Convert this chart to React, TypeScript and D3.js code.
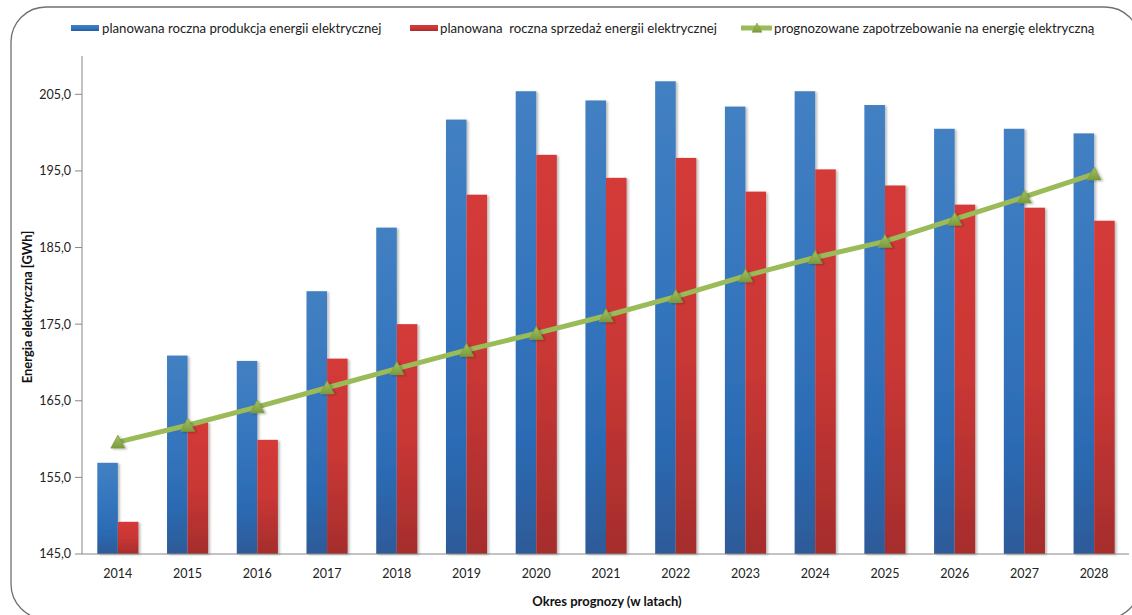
import React from "react";
import * as d3 from "d3";

// Forecast years on the category axis
const years = ["2014", "2015", "2016", "2017", "2018", "2019", "2020", "2021", "2022", "2023", "2024", "2025", "2026", "2027", "2028"];

// Planned annual electricity production [GWh]
const production = [156.9, 170.9, 170.2, 179.3, 187.6, 201.7, 205.4, 204.2, 206.7, 203.4, 205.4, 203.6, 200.5, 200.5, 199.9];

// Planned annual electricity sales [GWh]
const sales = [149.2, 162.2, 159.9, 170.5, 175.0, 191.9, 197.1, 194.1, 196.7, 192.3, 195.2, 193.1, 190.6, 190.2, 188.5];

// Forecast electricity demand [GWh]
const demand = [159.6, 161.8, 164.2, 166.7, 169.2, 171.6, 173.8, 176.1, 178.6, 181.3, 183.7, 185.8, 188.7, 191.6, 194.6];

// Value axis ticks
const yTicks = [145, 155, 165, 175, 185, 195, 205];

const seriesNames = [
  "planowana roczna produkcja energii elektrycznej",
  "planowana  roczna sprzedaż energii elektrycznej",
  "prognozowane zapotrzebowanie na energię elektryczną",
];

const FONT = "Lato, 'Open Sans', sans-serif";

export default function App() {
  const width = 1132;
  const height = 615;
  const left = 82;
  const right = 1129;
  const top = 56;
  const bottom = 554;

  const x = d3.scaleBand<string>().domain(years).range([83, right]).paddingInner(0.41).paddingOuter(0.205);
  const xs = d3.scaleBand<string>().domain(["prod", "sales"]).range([0, x.bandwidth()]);
  const y = d3.scaleLinear().domain([145, 210]).range([bottom, top]);

  const line = d3
    .line<number>()
    .x((_, i) => (x(years[i]) as number) + x.bandwidth() / 2)
    .y((d) => y(d));

  const tri = (cx: number, cy: number, s = 7) =>
    `M${cx},${cy - s} L${cx + s},${cy + s * 0.85} L${cx - s},${cy + s * 0.85} Z`;

  return (
    <svg width={width} height={height} style={{ display: "block", position: "absolute", left: 0, top: 0 }}>
      <defs>
        <linearGradient id="gBlue" x1="0" y1="0" x2="0" y2="1">
          <stop offset="0" stopColor="#4280c2" />
          <stop offset="0.45" stopColor="#3475bd" />
          <stop offset="0.75" stopColor="#2c6bb4" />
          <stop offset="1" stopColor="#2d5a98" />
        </linearGradient>
        <linearGradient id="gRed" x1="0" y1="0" x2="0" y2="1">
          <stop offset="0" stopColor="#d43a38" />
          <stop offset="0.5" stopColor="#c93735" />
          <stop offset="1" stopColor="#a52d2c" />
        </linearGradient>
        <linearGradient id="gGreen" x1="0" y1="0" x2="0" y2="1">
          <stop offset="0" stopColor="#a4c463" />
          <stop offset="1" stopColor="#7b9a3c" />
        </linearGradient>
        <filter id="shadow" x="-20%" y="-5%" width="150%" height="115%">
          <feDropShadow dx="2" dy="1" stdDeviation="1.3" floodColor="#000" floodOpacity="0.25" />
        </filter>
      </defs>

      <rect x={0} y={0} width={width} height={height} fill="#fff" />
      {/* chart frame */}
      <rect x={11} y={7} width={1129} height={612} rx={35} ry={35} fill="#fff" stroke="#707070" strokeWidth={1.3} />

      {/* legend */}
      <g fontFamily={FONT} fontSize={13.2} fill="#222">
        <rect x={71} y={25} width={28} height={6} fill="url(#gBlue)" />
        <text x={102} y={32.5}>{seriesNames[0]}</text>
        <rect x={410} y={25} width={28} height={6} fill="url(#gRed)" />
        <text x={440} y={32.5} style={{ whiteSpace: "pre" }}>{seriesNames[1]}</text>
        <line x1={741} y1={28} x2={772} y2={28} stroke="#9bbb59" strokeWidth={5} />
        <path d={tri(757, 28, 5)} fill="url(#gGreen)" stroke="#7f9c42" strokeWidth={0.6} />
        <text x={774} y={32.5}>{seriesNames[2]}</text>
      </g>

      {/* value axis */}
      <line x1={left} y1={top} x2={left} y2={bottom} stroke="#868686" strokeWidth={1} />
      {yTicks.map((t) => (
        <g key={t}>
          <line x1={left - 7} x2={left} y1={y(t)} y2={y(t)} stroke="#868686" />
          <text x={left - 11} y={y(t)} dy="0.35em" textAnchor="end" fontFamily={FONT} fontSize={12.5} fill="#222">
            {d3.format(".1f")(t).replace(".", ",")}
          </text>
        </g>
      ))}

      {/* bars */}
      <g filter="url(#shadow)">
        {years.map((yr, i) => (
          <g key={yr}>
            <rect
              x={(x(yr) as number) + (xs("prod") as number)}
              y={y(production[i])}
              width={xs.bandwidth()}
              height={bottom - y(production[i])}
              fill="url(#gBlue)"
            />
            <rect
              x={(x(yr) as number) + (xs("sales") as number)}
              y={y(sales[i])}
              width={xs.bandwidth()}
              height={bottom - y(sales[i])}
              fill="url(#gRed)"
            />
          </g>
        ))}
      </g>

      {/* category axis */}
      <line x1={left} y1={bottom} x2={right} y2={bottom} stroke="#868686" strokeWidth={1} />
      {years.map((yr) => (
        <text
          key={yr}
          x={(x(yr) as number) + x.bandwidth() / 2}
          y={578}
          textAnchor="middle"
          fontFamily={FONT}
          fontSize={12.5}
          fill="#222"
        >
          {yr}
        </text>
      ))}

      {/* demand line */}
      <path d={line(demand) as string} fill="none" stroke="#9bbb59" strokeWidth={5} strokeLinejoin="round" />
      <g filter="url(#shadow)">
        {demand.map((v, i) => (
          <path
            key={i}
            d={tri((x(years[i]) as number) + x.bandwidth() / 2, y(v))}
            fill="url(#gGreen)"
            stroke="#7f9c42"
            strokeWidth={0.8}
          />
        ))}
      </g>

      {/* axis titles */}
      <text x={607} y={606} textAnchor="middle" fontFamily={FONT} fontWeight="bold" fontSize={13} fill="#111">
        Okres prognozy (w latach)
      </text>
      <text
        transform={`translate(31.5, ${(top + bottom) / 2 + 2}) rotate(-90)`}
        textAnchor="middle"
        fontFamily={FONT}
        fontWeight="bold"
        fontSize={12.9}
        fill="#111"
      >
        Energia elektryczna [GWh]
      </text>
    </svg>
  );
}
